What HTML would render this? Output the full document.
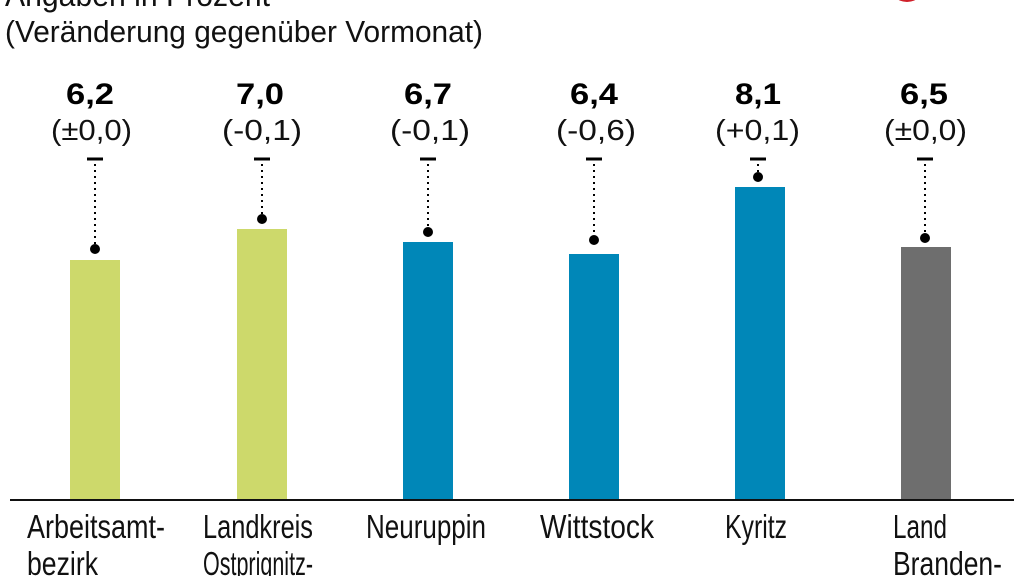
<!DOCTYPE html>
<html><head><meta charset="utf-8"><style>
html,body{margin:0;padding:0;background:#fff;}
svg{display:block;}
text{font-family:"Liberation Sans",sans-serif;}
</style></head><body>
<svg width="1024" height="576" viewBox="0 0 1024 576" xmlns="http://www.w3.org/2000/svg">
<circle cx="907" cy="-16" r="18" fill="#d0202a"/>
<text x="5" y="6" font-size="32" fill="#111" textLength="265" lengthAdjust="spacingAndGlyphs">Angaben in Prozent</text>
<text x="5" y="42" font-size="31" fill="#111" textLength="478" lengthAdjust="spacingAndGlyphs">(Veränderung gegenüber Vormonat)</text>
<g font-size="30" font-weight="bold" fill="#000">
<text x="66" y="104" textLength="48" lengthAdjust="spacingAndGlyphs">6,2</text>
<text x="236" y="104" textLength="48" lengthAdjust="spacingAndGlyphs">7,0</text>
<text x="404" y="104" textLength="48" lengthAdjust="spacingAndGlyphs">6,7</text>
<text x="570" y="104" textLength="48" lengthAdjust="spacingAndGlyphs">6,4</text>
<text x="735" y="104" textLength="46" lengthAdjust="spacingAndGlyphs">8,1</text>
<text x="900" y="104" textLength="48" lengthAdjust="spacingAndGlyphs">6,5</text>
</g>
<g font-size="29" fill="#111">
<text x="51" y="140" textLength="81" lengthAdjust="spacingAndGlyphs">(±0,0)</text>
<text x="222" y="140" textLength="80" lengthAdjust="spacingAndGlyphs">(-0,1)</text>
<text x="390" y="140" textLength="80" lengthAdjust="spacingAndGlyphs">(-0,1)</text>
<text x="556" y="140" textLength="80" lengthAdjust="spacingAndGlyphs">(-0,6)</text>
<text x="715" y="140" textLength="85" lengthAdjust="spacingAndGlyphs">(+0,1)</text>
<text x="884" y="140" textLength="83" lengthAdjust="spacingAndGlyphs">(±0,0)</text>
</g>
<g stroke="#000" stroke-width="3">
<line x1="87" y1="159" x2="103" y2="159"/>
<line x1="254" y1="159" x2="270" y2="159"/>
<line x1="420" y1="159" x2="436" y2="159"/>
<line x1="586" y1="159" x2="602" y2="159"/>
<line x1="750" y1="159" x2="766" y2="159"/>
<line x1="917" y1="159" x2="933" y2="159"/>
</g>
<g stroke="#000" stroke-width="2" stroke-dasharray="2 4">
<line x1="95" y1="164" x2="95" y2="246"/>
<line x1="262" y1="164" x2="262" y2="216"/>
<line x1="428" y1="164" x2="428" y2="230"/>
<line x1="594" y1="164" x2="594" y2="238"/>
<line x1="758" y1="164" x2="758" y2="174"/>
<line x1="925" y1="164" x2="925" y2="236"/>
</g>
<g fill="#000">
<circle cx="95" cy="249" r="5"/>
<circle cx="262" cy="219" r="5"/>
<circle cx="428" cy="232" r="5"/>
<circle cx="594" cy="240" r="5"/>
<circle cx="758" cy="177" r="5"/>
<circle cx="925" cy="238" r="5"/>
</g>
<rect x="70" y="260" width="50" height="240" fill="#cdd96b"/>
<rect x="237" y="229" width="50" height="271" fill="#cdd96b"/>
<rect x="403" y="242" width="50" height="258" fill="#0087b8"/>
<rect x="569" y="254" width="50" height="246" fill="#0087b8"/>
<rect x="735" y="187" width="50" height="313" fill="#0087b8"/>
<rect x="901" y="247" width="50" height="253" fill="#6e6e6e"/>
<line x1="10" y1="500" x2="1014" y2="500" stroke="#111" stroke-width="2"/>
<g font-size="33" fill="#111">
<text x="27" y="538" textLength="138" lengthAdjust="spacingAndGlyphs">Arbeitsamt-</text>
<text x="27" y="575" textLength="71" lengthAdjust="spacingAndGlyphs">bezirk</text>
<text x="203" y="538" textLength="110" lengthAdjust="spacingAndGlyphs">Landkreis</text>
<text x="203" y="575" textLength="110" lengthAdjust="spacingAndGlyphs">Ostprignitz-</text>
<text x="366" y="538" textLength="120" lengthAdjust="spacingAndGlyphs">Neuruppin</text>
<text x="540" y="538" textLength="114" lengthAdjust="spacingAndGlyphs">Wittstock</text>
<text x="725" y="538" textLength="62" lengthAdjust="spacingAndGlyphs">Kyritz</text>
<text x="893" y="538" textLength="54" lengthAdjust="spacingAndGlyphs">Land</text>
<text x="893" y="575" textLength="109" lengthAdjust="spacingAndGlyphs">Branden-</text>
</g>
</svg>
</body></html>
